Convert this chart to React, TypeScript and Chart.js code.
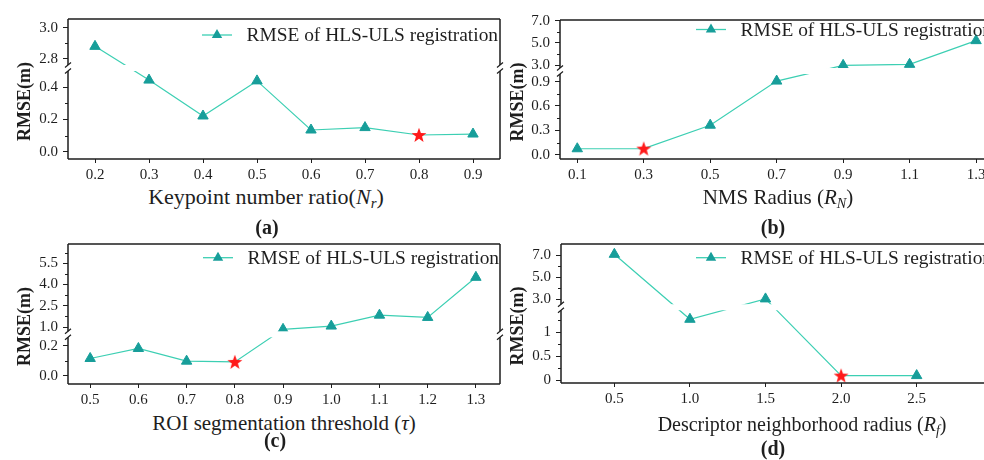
import React, { useEffect, useRef } from 'react';
import { Chart, registerables } from 'chart.js';
Chart.register(...registerables);

const SERIF = '"Liberation Serif", "Times New Roman", serif';
const LINE_COLOR = '#3ccfb3';
const MARKER_COLOR = '#179e9a';
const STAR_COLOR = '#ff1a1a';
const INK = '#1e1e1e';
const LEGEND_TEXT = 'RMSE of HLS-ULS registration';
const Y_TITLE = 'RMSE(m)';

// (a) Keypoint number ratio
const keypointRatio = [0.2, 0.3, 0.4, 0.5, 0.6, 0.7, 0.8, 0.9];
const rmseKeypoint = [2.88, 0.445, 0.222, 0.44, 0.135, 0.15, 0.104, 0.11];
const bestKeypoint = 0.8;
const yMajorA = [0, 0.2, 0.4, 2.8, 3.0];
const yLabelsA = ['0.0', '0.2', '0.4', '2.8', '3.0'];
const yMinorA = [0.1, 0.3, 2.9];
const xLabelsA = ['0.2', '0.3', '0.4', '0.5', '0.6', '0.7', '0.8', '0.9'];

// (b) NMS radius
const nmsRadius = [0.1, 0.3, 0.5, 0.7, 0.9, 1.1, 1.3];
const rmseNms = [0.073, 0.075, 0.363, 0.906, 2.97, 3.06, 5.2];
const bestNms = 0.3;
const yMajorB = [0, 0.3, 0.6, 0.9, 3, 5, 7];
const yLabelsB = ['0.0', '0.3', '0.6', '0.9', '3.0', '5.0', '7.0'];
const yMinorB = [0.15, 0.45, 0.75, 4, 6];
const xLabelsB = ['0.1', '0.3', '0.5', '0.7', '0.9', '1.1', '1.3'];

// (c) ROI segmentation threshold
const roiThreshold = [0.5, 0.6, 0.7, 0.8, 0.9, 1.0, 1.1, 1.2, 1.3];
const rmseRoi = [0.116, 0.183, 0.098, 0.093, 0.84, 1.07, 1.84, 1.68, 4.51];
const bestRoi = 0.8;
const yMajorC = [0, 0.2, 1.0, 2.5, 4.0, 5.5];
const yLabelsC = ['0.0', '0.2', '1.0', '2.5', '4.0', '5.5'];
const yMinorC = [0.1, 1.75, 3.25, 4.75, 6.25];
const xLabelsC = ['0.5', '0.6', '0.7', '0.8', '0.9', '1.0', '1.1', '1.2', '1.3'];

// (d) Descriptor neighborhood radius
const descRadius = [0.5, 1.0, 1.5, 2.0, 2.5];
const rmseDesc = [7.09, 1.27, 3.03, 0.1, 0.1];
const bestDesc = 2.0;
const yMajorD = [0, 0.5, 1, 3, 5, 7];
const yLabelsD = ['0', '0.5', '1', '3.0', '5.0', '7.0'];
const yMinorD = [0.25, 0.75, 1.25, 4, 6];
const xLabelsD = ['0.5', '1.0', '1.5', '2.0', '2.5'];

type Brk = { lowMin: number; lowMax: number; highMin: number; highMax: number; frac: number };
type PanelCfg = {
  left: number; top: number; width: number; height: number;
  axisW: number; padTop: number; padRight: number; xAxisH: number;
  xMin: number; xMax: number; brk: Brk;
  xs: number[]; ys: number[]; best: number;
  yMajor: number[]; yLabels: string[]; yMinor: number[]; xLabels: string[];
  legendDX: number; legendDY: number; titleX: number;
};

const panels: PanelCfg[] = [
  {
    left: 0, top: 0, width: 510, height: 184, axisW: 68, padTop: 19, padRight: 10, xAxisH: 25,
    xMin: 0.15, xMax: 0.95,
    brk: { lowMin: -0.045, lowMax: 0.52, highMin: 2.74, highMax: 3.057, frac: 0.65 },
    xs: keypointRatio, ys: rmseKeypoint, best: bestKeypoint,
    yMajor: yMajorA, yLabels: yLabelsA, yMinor: yMinorA, xLabels: xLabelsA,
    legendDX: 134, legendDY: 16, titleX: 25,
  },
  {
    left: 490, top: 0, width: 515, height: 184, axisW: 70, padTop: 20, padRight: 12, xAxisH: 25,
    xMin: 0.048, xMax: 1.351,
    brk: { lowMin: -0.053, lowMax: 1.03, highMin: 2.46, highMax: 7.06, frac: 0.633 },
    xs: nmsRadius, ys: rmseNms, best: bestNms,
    yMajor: yMajorB, yLabels: yLabelsB, yMinor: yMinorB, xLabels: xLabelsB,
    legendDX: 136, legendDY: 9.5, titleX: 28,
  },
  {
    left: 0, top: 230, width: 510, height: 179, axisW: 68, padTop: 13, padRight: 10, xAxisH: 25,
    xMin: 0.454, xMax: 1.35,
    brk: { lowMin: -0.055, lowMax: 0.278, highMin: 0.49, highMax: 6.86, frac: 0.355 },
    xs: roiThreshold, ys: rmseRoi, best: bestRoi,
    yMajor: yMajorC, yLabels: yLabelsC, yMinor: yMinorC, xLabels: xLabelsC,
    legendDX: 135, legendDY: 13.7, titleX: 25,
  },
  {
    left: 490, top: 230, width: 515, height: 178, axisW: 71, padTop: 14, padRight: 12, xAxisH: 25,
    xMin: 0.147, xMax: 3.005,
    brk: { lowMin: -0.054, lowMax: 1.52, highMin: 2.27, highMax: 8.03, frac: 0.545 },
    xs: descRadius, ys: rmseDesc, best: bestDesc,
    yMajor: yMajorD, yLabels: yLabelsD, yMinor: yMinorD, xLabels: xLabelsD,
    legendDX: 135, legendDY: 13.7, titleX: 28,
  },
];

function makeTransform(b: Brk) {
  const mid = (b.lowMax + b.highMin) / 2;
  return (v: number) =>
    v <= mid
      ? ((v - b.lowMin) / (b.lowMax - b.lowMin)) * b.frac
      : b.frac + ((v - b.highMin) / (b.highMax - b.highMin)) * (1 - b.frac);
}

function makeStar(): HTMLCanvasElement {
  const c = document.createElement('canvas');
  c.width = 18;
  c.height = 18;
  const g = c.getContext('2d')!;
  g.beginPath();
  for (let i = 0; i < 10; i++) {
    const r = i % 2 === 0 ? 7.8 : 3.2;
    const a = -Math.PI / 2 + (i * Math.PI) / 5;
    const px = 9 + r * Math.cos(a);
    const py = 9.6 + r * Math.sin(a);
    if (i === 0) g.moveTo(px, py);
    else g.lineTo(px, py);
  }
  g.closePath();
  g.fillStyle = STAR_COLOR;
  g.fill();
  return c;
}

function Panel({ cfg }: { cfg: PanelCfg }) {
  const ref = useRef<HTMLCanvasElement>(null);
  useEffect(() => {
    const tf = makeTransform(cfg.brk);
    const star = makeStar();
    const deco = {
      id: 'deco',
      afterDraw(chart: any) {
        const ctx = chart.ctx as CanvasRenderingContext2D;
        const { left: L, right: R, top: T, bottom: B } = chart.chartArea;
        const ys = chart.scales.y;
        const by = ys.getPixelForValue(cfg.brk.frac);
        const gap = 3;
        ctx.save();
        // white band at the break
        ctx.fillStyle = '#ffffff';
        ctx.fillRect(L + 1, by - gap, R - L - 2, gap * 2);
        // frame
        ctx.strokeStyle = INK;
        ctx.lineWidth = 1.5;
        ctx.beginPath();
        ctx.moveTo(L, T); ctx.lineTo(R, T);
        ctx.moveTo(L, B); ctx.lineTo(R, B);
        ctx.moveTo(L, T); ctx.lineTo(L, by - gap);
        ctx.moveTo(L, by + gap); ctx.lineTo(L, B);
        ctx.moveTo(R, T); ctx.lineTo(R, by - gap);
        ctx.moveTo(R, by + gap); ctx.lineTo(R, B);
        ctx.stroke();
        // break marks
        ctx.lineWidth = 1.2;
        ctx.beginPath();
        for (const x of [L, R]) {
          for (const d of [-gap, gap]) {
            ctx.moveTo(x - 3, by + d + 2.5);
            ctx.lineTo(x + 3, by + d - 2.5);
          }
        }
        ctx.stroke();
        // minor ticks
        ctx.lineWidth = 1;
        ctx.beginPath();
        for (const m of cfg.yMinor) {
          const y = Math.round(ys.getPixelForValue(tf(m))) + 0.5;
          ctx.moveTo(L - 3, y);
          ctx.lineTo(L, y);
        }
        ctx.stroke();
        // legend
        const lx = L + cfg.legendDX;
        const ly = T + cfg.legendDY;
        ctx.strokeStyle = LINE_COLOR;
        ctx.lineWidth = 1.3;
        ctx.beginPath();
        ctx.moveTo(lx, ly);
        ctx.lineTo(lx + 30, ly);
        ctx.stroke();
        ctx.fillStyle = MARKER_COLOR;
        ctx.beginPath();
        ctx.moveTo(lx + 15, ly - 6);
        ctx.lineTo(lx + 15 + 5.2, ly + 3);
        ctx.lineTo(lx + 15 - 5.2, ly + 3);
        ctx.closePath();
        ctx.fill();
        ctx.fillStyle = INK;
        ctx.font = `19.4px ${SERIF}`;
        ctx.textAlign = 'left';
        ctx.textBaseline = 'middle';
        ctx.fillText(LEGEND_TEXT, lx + 44.5, ly + 1);
        // y title
        ctx.translate(cfg.titleX, (T + B) / 2 + 12.5);
        ctx.rotate(-Math.PI / 2);
        ctx.font = `bold 18px ${SERIF}`;
        ctx.textAlign = 'center';
        ctx.textBaseline = 'middle';
        ctx.fillText(Y_TITLE, 0, 0);
        ctx.restore();
      },
    };

    const chart = new Chart(ref.current!, {
      type: 'line',
      data: {
        datasets: [
          {
            data: cfg.xs.map((x, i) => ({ x, y: tf(cfg.ys[i]) })),
            borderColor: LINE_COLOR,
            borderWidth: 1.2,
            pointStyle: (c: any) => (cfg.xs[c.dataIndex] === cfg.best ? star : 'triangle'),
            pointRadius: 6,
            pointBackgroundColor: MARKER_COLOR,
            pointBorderColor: MARKER_COLOR,
            pointBorderWidth: 1,
            tension: 0,
            clip: false,
          } as any,
        ],
      },
      options: {
        animation: false,
        responsive: false,
        maintainAspectRatio: false,
        layout: { padding: { left: 0, top: cfg.padTop, right: cfg.padRight, bottom: 0 } },
        plugins: { legend: { display: false }, tooltip: { enabled: false } },
        scales: {
          x: {
            type: 'linear',
            min: cfg.xMin,
            max: cfg.xMax,
            border: { display: false },
            grid: { display: true, drawOnChartArea: false, drawTicks: true, tickLength: 4, color: INK },
            ticks: {
              font: { family: SERIF, size: 15 },
              color: INK,
              padding: 3,
              maxRotation: 0,
              autoSkip: false,
              callback: (_v: any, i: number) => cfg.xLabels[i],
            },
            afterBuildTicks: (s: any) => {
              s.ticks = cfg.xs.map((v) => ({ value: v }));
            },
            afterFit: (s: any) => {
              s.height = cfg.xAxisH;
            },
          },
          y: {
            type: 'linear',
            min: 0,
            max: 1,
            border: { display: false },
            grid: { display: true, drawOnChartArea: false, drawTicks: true, tickLength: 5, color: INK },
            ticks: {
              font: { family: SERIF, size: 15 },
              color: INK,
              padding: 5,
              autoSkip: false,
              callback: (_v: any, i: number) => cfg.yLabels[i],
            },
            afterBuildTicks: (s: any) => {
              s.ticks = cfg.yMajor.map((m) => ({ value: tf(m) }));
            },
            afterFit: (s: any) => {
              s.width = cfg.axisW;
            },
          },
        },
      } as any,
      plugins: [deco],
    });
    return () => chart.destroy();
  }, [cfg]);
  return (
    <canvas
      ref={ref}
      width={cfg.width}
      height={cfg.height}
      style={{ position: 'absolute', left: cfg.left, top: cfg.top, width: cfg.width, height: cfg.height }}
    />
  );
}

const subStyle: React.CSSProperties = { fontSize: '0.68em', verticalAlign: '-0.3em', fontStyle: 'italic', lineHeight: 0 };

function Label({ x, y, bold, size, children }: { x: number; y: number; bold?: boolean; size: number; children: React.ReactNode }) {
  return (
    <div
      style={{
        position: 'absolute',
        left: x,
        top: y,
        transform: 'translate(-50%, -50%)',
        whiteSpace: 'nowrap',
        fontFamily: SERIF,
        fontSize: size,
        fontWeight: bold ? 'bold' : 'normal',
        color: INK,
        lineHeight: 1,
      }}
    >
      {children}
    </div>
  );
}

export default function App() {
  return (
    <div
      style={{
        position: 'fixed',
        left: 0,
        top: 0,
        width: 984,
        height: 460,
        overflow: 'hidden',
        background: '#ffffff',
      }}
    >
      {panels.map((p, i) => (
        <Panel key={i} cfg={p} />
      ))}
      <Label x={266} y={197} size={22}>
        Keypoint number ratio(<i>N</i><sub style={subStyle}>r</sub>)
      </Label>
      <Label x={778} y={197} size={21}>
        NMS Radius (<i>R</i><sub style={subStyle}>N</sub>)
      </Label>
      <Label x={284} y={423} size={21}>
        ROI segmentation threshold (<i>τ</i>)
      </Label>
      <Label x={802} y={424} size={20}>
        Descriptor neighborhood radius (<i>R</i><sub style={subStyle}>f</sub>)
      </Label>
      <Label x={267} y={227} size={20} bold>(a)</Label>
      <Label x={773} y={227} size={20} bold>(b)</Label>
      <Label x={275} y={440} size={20} bold>(c)</Label>
      <Label x={773} y={448} size={20} bold>(d)</Label>
    </div>
  );
}
